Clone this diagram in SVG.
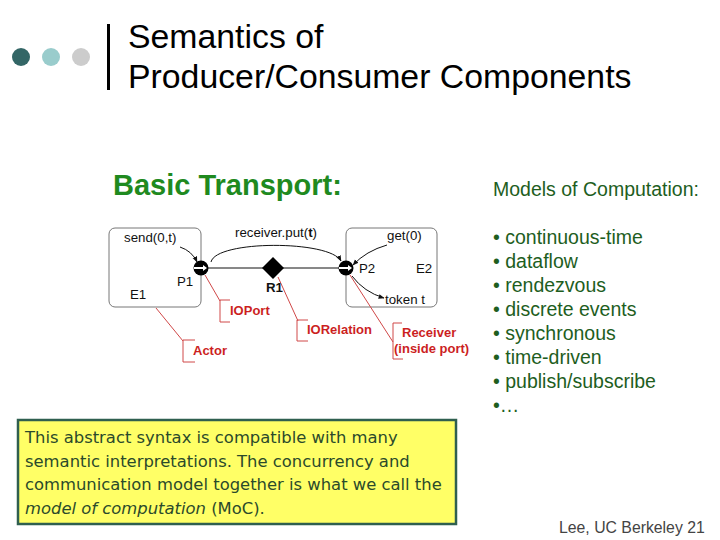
<svg xmlns="http://www.w3.org/2000/svg" width="720" height="540" viewBox="0 0 720 540">
<defs>
<style>
.t{font-family:"Liberation Sans",Arial,sans-serif}
.lbl{font-family:"Liberation Sans",Arial,sans-serif;font-size:13.3px;fill:#111}
.red{font-family:"Liberation Sans",Arial,sans-serif;font-size:13px;font-weight:bold;fill:#cc1f1f}
.box{fill:#fff;stroke:#777;stroke-width:1}
.con{fill:none;stroke:#111;stroke-width:1}
.call{fill:none;stroke:#d04848;stroke-width:1}
.mo{font-family:"Liberation Sans",Arial,sans-serif;font-size:19.5px;fill:#1e5e1e}
.note{font-family:"DejaVu Sans",sans-serif;font-size:16.4px;fill:#2b4a2b}
</style>
<marker id="ah" viewBox="0 0 10 10" refX="9" refY="5" markerWidth="6" markerHeight="6" orient="auto-start-reverse" markerUnits="userSpaceOnUse">
<path d="M0,1 L10,5 L0,9 z" fill="#111"/>
</marker>
</defs>
<rect width="720" height="540" fill="#fff"/>
<g id="title">
<circle cx="21" cy="57" r="9" fill="#336666"/>
<circle cx="51" cy="57" r="9" fill="#99cccc"/>
<circle cx="81" cy="57" r="9" fill="#cccccc"/>
<rect x="107" y="24" width="3" height="66" fill="#000"/>
<text class="t" x="128" y="48" font-size="33.8" fill="#000">Semantics of</text>
<text class="t" x="128" y="88" font-size="33.8" fill="#000">Producer/Consumer Components</text>
</g>
<text class="t" x="113" y="195" font-size="29" font-weight="bold" fill="#1f8a1f">Basic Transport:</text>
<g id="E1">
<rect class="box" x="109" y="228" width="92" height="79" rx="6"/>
<text class="lbl" x="124" y="242">send(0,t)</text>
<text class="lbl" x="177" y="286">P1</text>
<text class="lbl" x="130" y="299">E1</text>
</g>
<g id="E2">
<rect class="box" x="346" y="228" width="91" height="79" rx="6"/>
<text class="lbl" x="387" y="240">get(0)</text>
<text class="lbl" x="359" y="273">P2</text>
<text class="lbl" x="416" y="273">E2</text>
<text class="lbl" x="385" y="304">token t</text>
</g>
<g id="connectors">
<line class="con" x1="201" y1="268" x2="346" y2="268" stroke-width="1.3"/>
<path class="con" d="M180 247 Q192 251 197 262" marker-end="url(#ah)"/>
<path class="con" d="M211 262 C216 240 330 240 341 261" marker-end="url(#ah)"/>
<path class="con" d="M387 245 Q366 251 353 265" marker-end="url(#ah)"/>
<path class="con" d="M352 276 Q364 292 384 298" marker-end="url(#ah)"/>
<line class="call" x1="156" y1="308" x2="183" y2="341"/>
<path class="call" d="M195 340 H183 V362 H195"/>
<line class="call" x1="205" y1="275" x2="220" y2="301"/>
<path class="call" d="M230 300 H220 V322 H230"/>
<line class="call" x1="278" y1="277" x2="298" y2="321"/>
<path class="call" d="M308 320 H297 V341 H308"/>
<line class="call" x1="350" y1="275" x2="393" y2="342"/>
<path class="call" d="M402 323 H393 V359 H403"/>
</g>
<g id="P1">
<circle cx="201" cy="268" r="7.5" fill="#000"/>
<line x1="194" y1="268" x2="204" y2="268" stroke="#fff" stroke-width="2"/>
<path d="M203 265 L207 268 L203 271 z" fill="#fff"/>
</g>
<g id="P2">
<circle cx="346" cy="268" r="7.5" fill="#000"/>
<line x1="339" y1="268" x2="349" y2="268" stroke="#fff" stroke-width="2"/>
<path d="M348 265 L352 268 L348 271 z" fill="#fff"/>
</g>
<g id="R1">
<path d="M273 257 L284 268 L273 279 L262 268 z" fill="#000"/>
<text class="lbl" x="266" y="292" font-weight="bold">R1</text>
</g>
<text class="lbl" x="235" y="237">receiver.put(<tspan font-weight="bold">t</tspan>)</text>
<g id="callouts">
<text class="red" x="193" y="355">Actor</text>
<text class="red" x="230" y="315">IOPort</text>
<text class="red" x="307" y="334">IORelation</text>
<text class="red" x="402" y="337">Receiver</text>
<text class="red" x="394" y="353">(inside port)</text>
</g>
<g id="models">
<text class="mo" x="493" y="196">Models of Computation:</text>
<text class="mo" x="493" y="244">• continuous-time</text>
<text class="mo" x="493" y="268">• dataflow</text>
<text class="mo" x="493" y="292">• rendezvous</text>
<text class="mo" x="493" y="316">• discrete events</text>
<text class="mo" x="493" y="340">• synchronous</text>
<text class="mo" x="493" y="364">• time-driven</text>
<text class="mo" x="493" y="388">• publish/subscribe</text>
<text class="mo" x="493" y="412">•…</text>
</g>
<g id="note">
<rect x="18" y="420" width="438" height="104" fill="#ffff66" stroke="#2f5f4f" stroke-width="2.5"/>
<text class="note" x="25" y="443">This abstract syntax is compatible with many</text>
<text class="note" x="25" y="467">semantic interpretations. The concurrency and</text>
<text class="note" x="25" y="490">communication model together is what we call the</text>
<text class="note" x="25" y="514"><tspan font-style="italic">model of computation</tspan> (MoC).</text>
</g>
<text class="t" x="559" y="533" font-size="15.8" fill="#444">Lee, UC Berkeley 21</text>
</svg>
